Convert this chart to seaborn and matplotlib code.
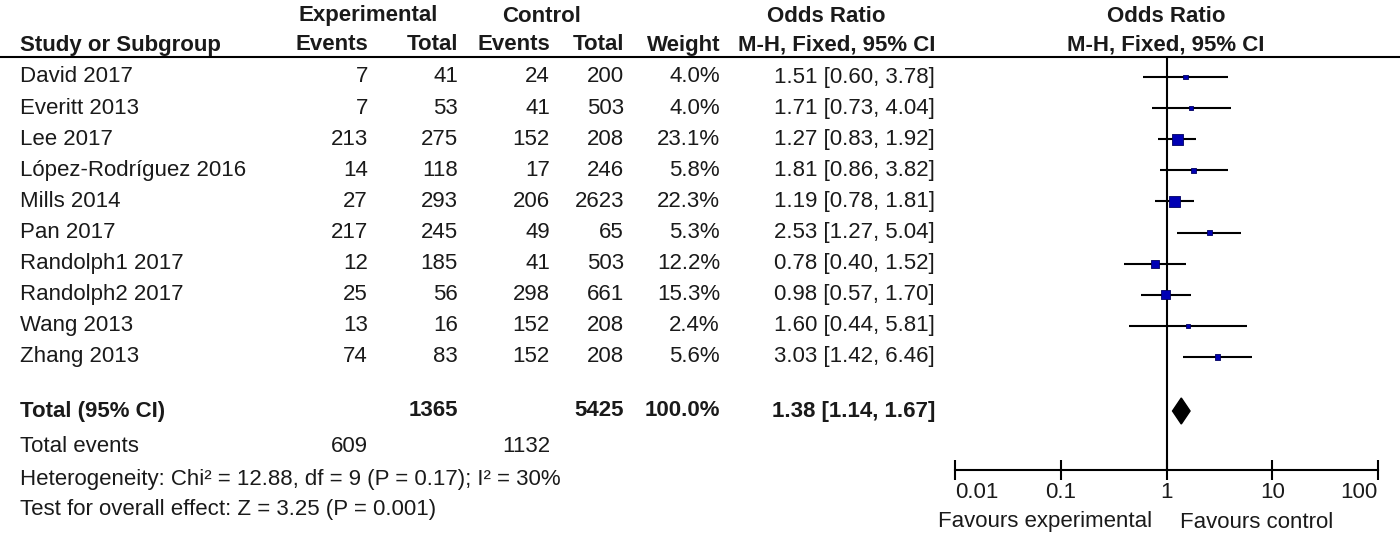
import numpy as np
import pandas as pd
import matplotlib
matplotlib.use('Agg')
import matplotlib.pyplot as plt
import seaborn as sns

studies = ['David 2017', 'Everitt 2013', 'Lee 2017', 'López-Rodríguez 2016', 'Mills 2014',
           'Pan 2017', 'Randolph1 2017', 'Randolph2 2017', 'Wang 2013', 'Zhang 2013']
exp_events = [7, 7, 213, 14, 27, 217, 12, 25, 13, 74]
exp_total = [41, 53, 275, 118, 293, 245, 185, 56, 16, 83]
ctl_events = [24, 41, 152, 17, 206, 49, 41, 298, 152, 152]
ctl_total = [200, 503, 208, 246, 2623, 65, 503, 661, 208, 208]
weight = [4.0, 4.0, 23.1, 5.8, 22.3, 5.3, 12.2, 15.3, 2.4, 5.6]
or_est = [1.51, 1.71, 1.27, 1.81, 1.19, 2.53, 0.78, 0.98, 1.60, 3.03]
or_lo = [0.60, 0.73, 0.83, 0.86, 0.78, 1.27, 0.40, 0.57, 0.44, 1.42]
or_hi = [3.78, 4.04, 1.92, 3.82, 1.81, 5.04, 1.52, 1.70, 5.81, 6.46]

total_exp, total_ctl = 1365, 5425
events_exp, events_ctl = 609, 1132
pooled = (1.38, 1.14, 1.67)
heterogeneity = 'Heterogeneity: Chi² = 12.88, df = 9 (P = 0.17); I² = 30%'
overall = 'Test for overall effect: Z = 3.25 (P = 0.001)'
ticks = [0.01, 0.1, 1, 10, 100]
tick_labels = ['0.01', '0.1', '1', '10', '100']

df = pd.DataFrame({'study': studies, 'est': or_est, 'lo': or_lo, 'hi': or_hi, 'w': weight})

sns.set_style('white')
plt.rcParams['font.family'] = ['Liberation Sans', 'DejaVu Sans']
FS = 16
TXT = '#1a1a1a'

W, H = 1400, 536
fig = plt.figure(figsize=(14, 5.36), dpi=100)

# text layer in pixel coords
tx = fig.add_axes([0, 0, 1, 1])
tx.set_xlim(0, W)
tx.set_ylim(H, 0)
tx.axis('off')

row0, step = 77, 31.1
rows = row0 + step * np.arange(len(studies))
df['y'] = rows
y_total, y_events, y_het, y_test = 411, 447, 479, 510
line_y = 57
axis_y = 470

# column right edges
cx = {'ee': 368, 'et': 458, 'ce': 550, 'ct': 624, 'w': 720, 'or': 935}

hdr = dict(fontsize=FS, fontweight='bold', color=TXT, va='center')
tx.text(368, 16, 'Experimental', ha='center', **hdr)
tx.text(542, 16, 'Control', ha='center', **hdr)
tx.text(826, 16, 'Odds Ratio', ha='center', **hdr)
tx.text(1166, 16, 'Odds Ratio', ha='center', **hdr)
tx.text(20, 45, 'Study or Subgroup', ha='left', **hdr)
for k, lab in zip(['ee', 'et', 'ce', 'ct', 'w', 'or'],
                  ['Events', 'Total', 'Events', 'Total', 'Weight', 'M-H, Fixed, 95% CI']):
    tx.text(cx[k], 45, lab, ha='right', **hdr)
tx.text(1166, 45, 'M-H, Fixed, 95% CI', ha='center', **hdr)
tx.plot([0, W], [line_y, line_y], color='black', lw=1.5)

body = dict(fontsize=FS, color=TXT, va='center')
for i, r in df.iterrows():
    y = r['y']
    tx.text(20, y, r['study'], ha='left', **body)
    tx.text(cx['ee'], y, str(exp_events[i]), ha='right', **body)
    tx.text(cx['et'], y, str(exp_total[i]), ha='right', **body)
    tx.text(cx['ce'], y, str(ctl_events[i]), ha='right', **body)
    tx.text(cx['ct'], y, str(ctl_total[i]), ha='right', **body)
    tx.text(cx['w'], y, f'{weight[i]:.1f}%', ha='right', **body)
    tx.text(cx['or'], y, f'{or_est[i]:.2f} [{or_lo[i]:.2f}, {or_hi[i]:.2f}]', ha='right', **body)

tx.text(20, y_total, 'Total (95% CI)', ha='left', **hdr)
tx.text(cx['et'], y_total, str(total_exp), ha='right', **hdr)
tx.text(cx['ct'], y_total, str(total_ctl), ha='right', **hdr)
tx.text(cx['w'], y_total, '100.0%', ha='right', **hdr)
tx.text(cx['or'], y_total, f'{pooled[0]:.2f} [{pooled[1]:.2f}, {pooled[2]:.2f}]', ha='right', **hdr)
tx.text(20, y_events, 'Total events', ha='left', **body)
tx.text(cx['ee'], y_events, str(events_exp), ha='right', **body)
tx.text(cx['ce'], y_events, str(events_ctl), ha='right', **body)
tx.text(20, y_het, heterogeneity, ha='left', **body)
tx.text(20, y_test, overall, ha='left', **body)

# forest panel
x0, x1 = 955, 1378
ax = fig.add_axes([x0 / W, 1 - axis_y / H, (x1 - x0) / W, (axis_y - line_y) / H])
ax.set_xscale('log')
ax.set_xlim(0.01, 100)
ax.set_ylim(axis_y, line_y)
ax.patch.set_alpha(0)

ax.hlines(df['y'], df['lo'], df['hi'], color='black', lw=1.5, zorder=2)
sns.scatterplot(data=df, x='est', y='y', size='w', sizes=(0, 2.7 * max(weight)),
                size_norm=(0, max(weight)), marker='s', color='#0000b4',
                edgecolor='#000060', linewidth=0.6, legend=False, ax=ax, zorder=3)
ax.axvline(1, color='black', lw=1.5, zorder=1)

est, lo, hi = pooled
dh = 13
ax.fill([lo, est, hi, est], [y_total, y_total - dh, y_total, y_total + dh],
        color='black', zorder=3)

for s in ['top', 'right', 'left']:
    ax.spines[s].set_visible(False)
ax.spines['bottom'].set_linewidth(1.5)
ax.spines['bottom'].set_color('black')
ax.set_yticks([])
ax.set_xticks(ticks)
ax.set_xticklabels(tick_labels)
ax.minorticks_off()
ax.tick_params(axis='x', bottom=True, direction='inout', length=14, width=1.5,
               color='black', labelsize=FS, labelcolor=TXT, pad=2)
labs = ax.get_xticklabels()
labs[0].set_ha('left')
labs[-1].set_ha('right')
ax.set_xlabel('')
ax.set_ylabel('')

tx.text(1152, 522, 'Favours experimental', ha='right', **body)
tx.text(1180, 522, 'Favours control', ha='left', **body)

fig.savefig('out.png', dpi=100)
